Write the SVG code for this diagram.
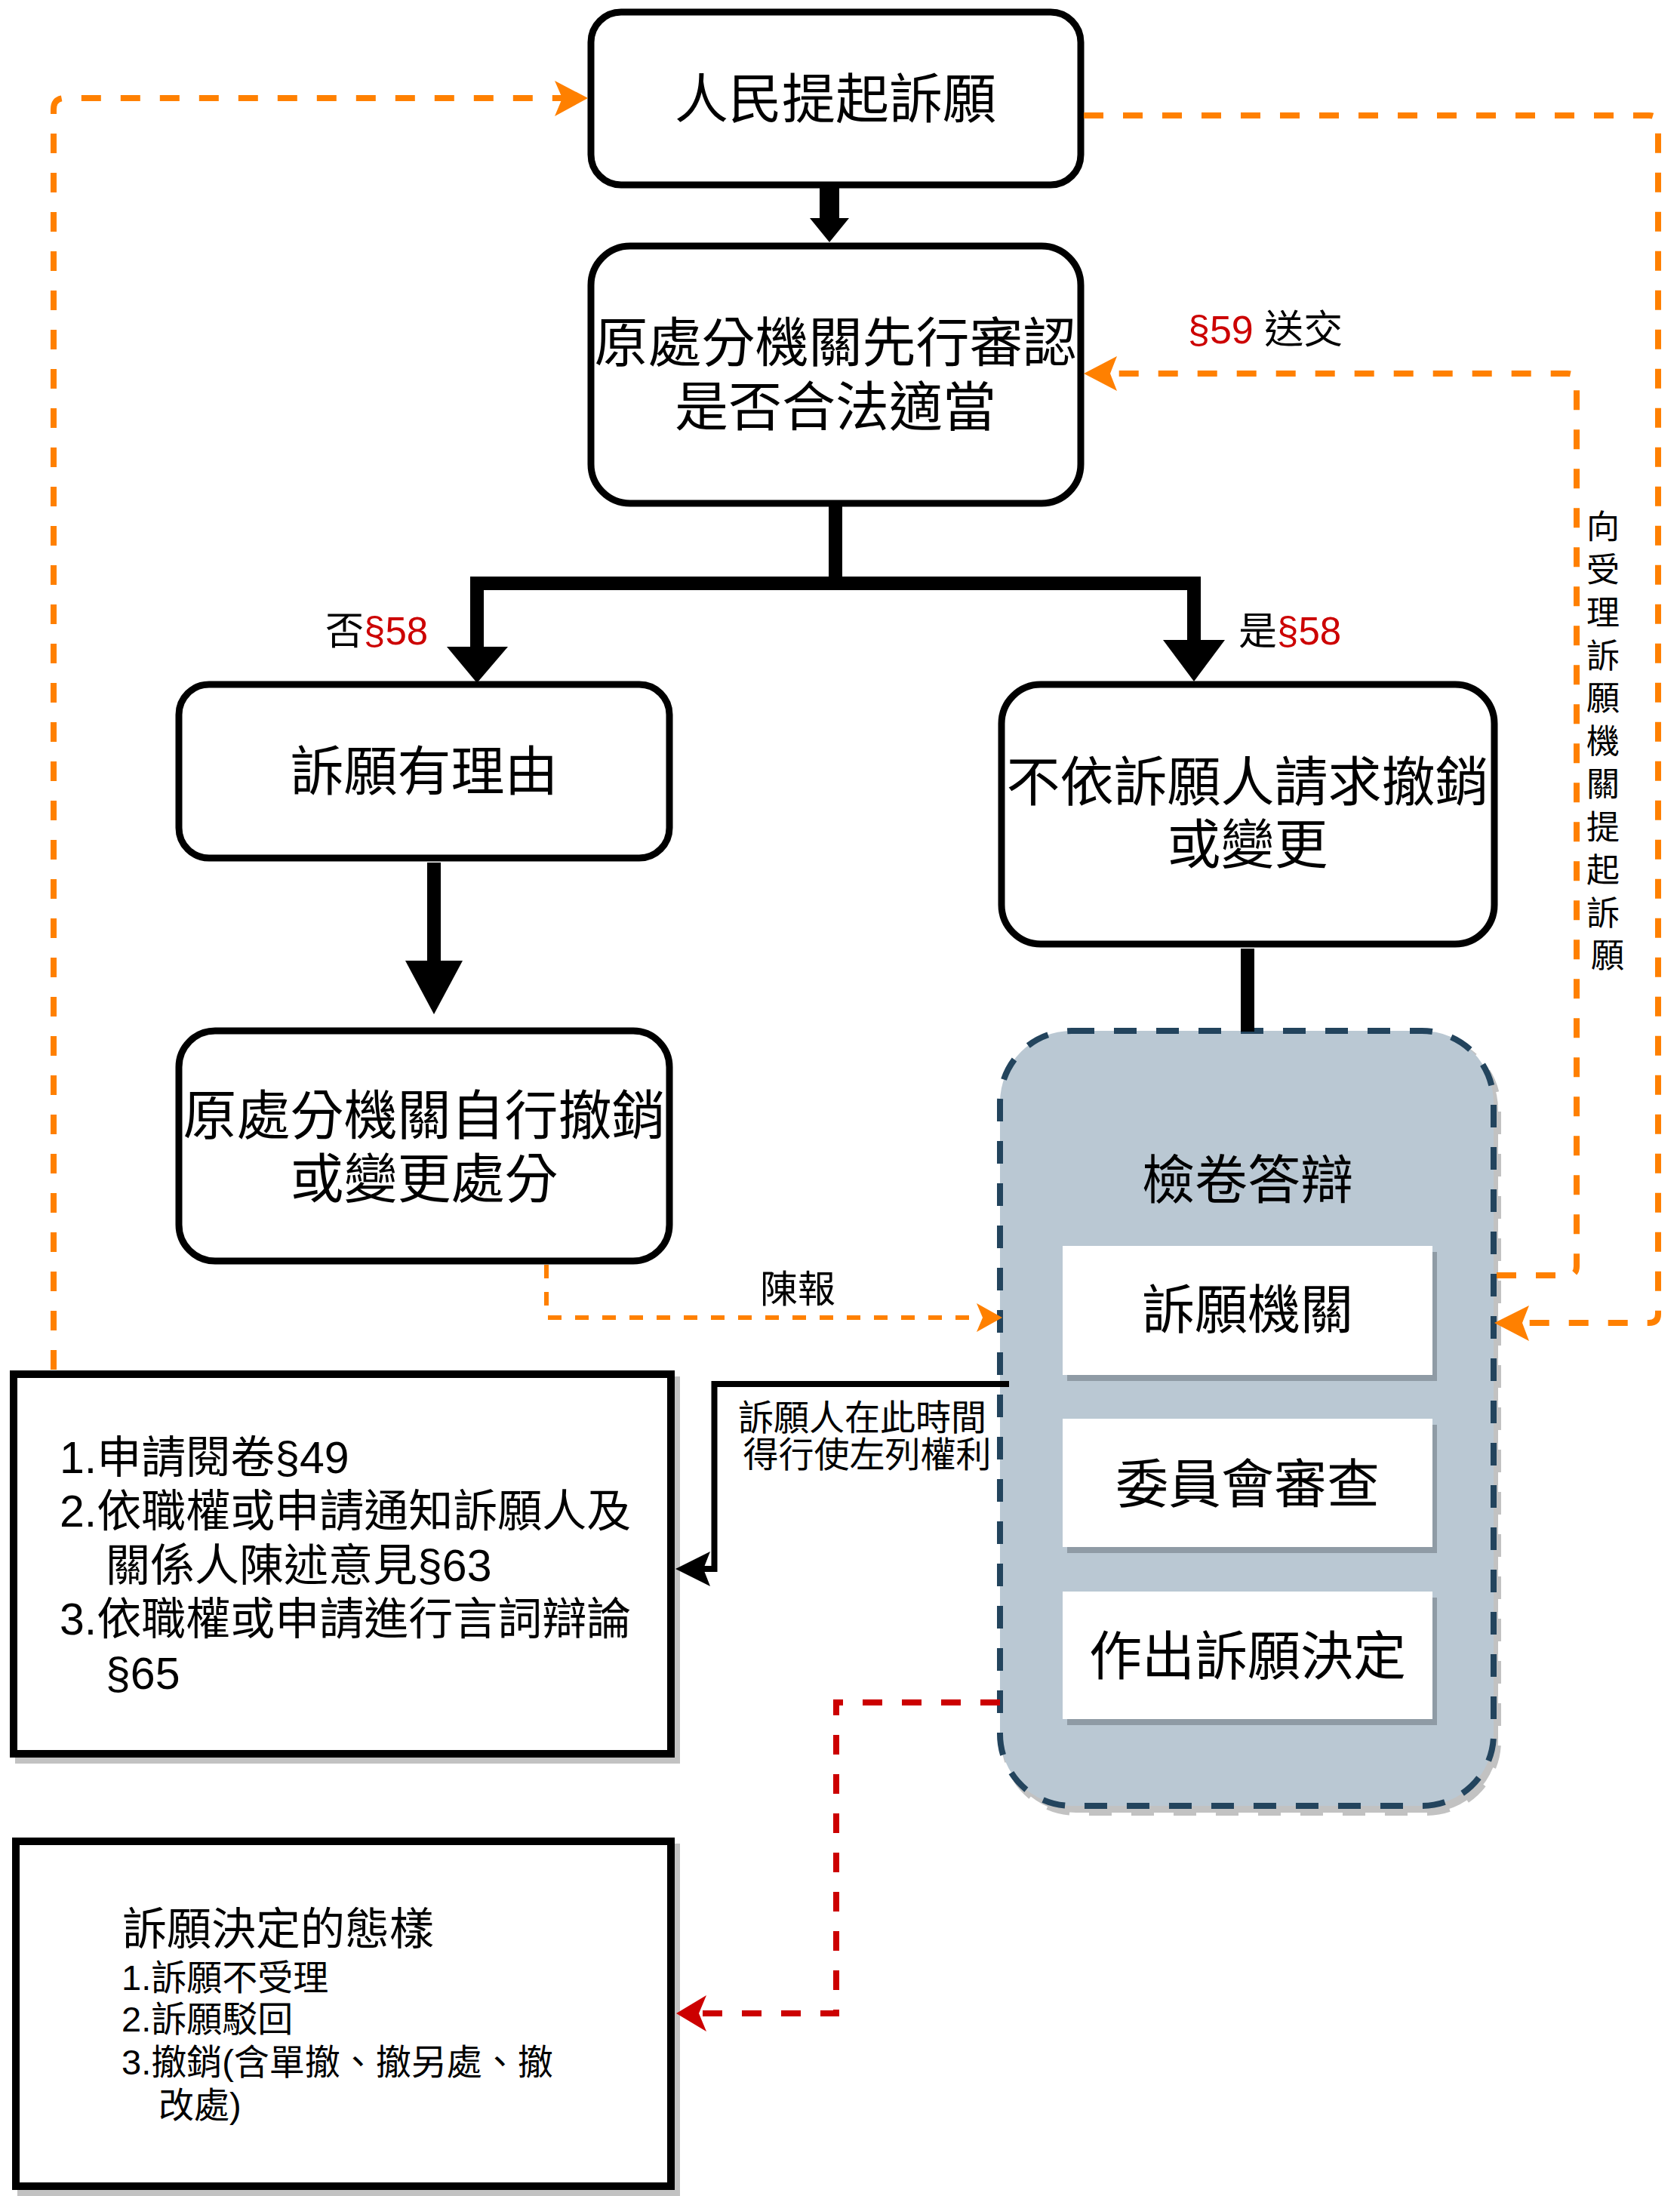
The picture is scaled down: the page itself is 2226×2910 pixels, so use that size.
<svg xmlns="http://www.w3.org/2000/svg" width="2226" height="2910" viewBox="0 0 2226 2910">
<style>
text { font-family: "Liberation Sans", "Noto Sans CJK TC", sans-serif; fill: #000; }
.big { font-size: 71px; text-anchor: middle; }
.mid { font-size: 70px; text-anchor: middle; }
.lbl { font-size: 51px; }
.rd { fill: #CC0000; }
.box { fill: #fff; stroke: #000; stroke-width: 9; }
.sq { fill: #fff; stroke: #000; stroke-width: 10; }
.sh { fill: #c2c2c2; stroke: #c2c2c2; stroke-width: 10; }
.inner { fill: #fff; }
.innersh { fill: #8f9ba5; }
.or { fill: none; stroke: #FF8000; stroke-width: 8; stroke-dasharray: 26 26; }
.or2 { fill: none; stroke: #FF8000; stroke-width: 6; stroke-dasharray: 18 18; }
.redl { fill: none; stroke: #CC0000; stroke-width: 8; stroke-dasharray: 26 26; }
.blk { fill: none; stroke: #000; stroke-width: 18; stroke-linejoin: miter; stroke-linecap: butt; }
.orh { fill: #FF8000; }
.redh { fill: #CC0000; }
</style>
<rect x="0" y="0" width="2226" height="2910" fill="#fff"/>

<g id="n1">
  <rect class="box" x="783" y="16" width="649" height="229" rx="40" ry="40"/>
  <text class="big" x="1107" y="156">人民提起訴願</text>
</g>
<g id="n2">
  <rect class="box" x="783" y="326" width="649" height="341" rx="52" ry="52"/>
  <text class="big" x="1107" y="479">原處分機關先行審認</text>
  <text class="big" x="1107" y="564">是否合法適當</text>
</g>
<g id="n3">
  <rect class="box" x="237" y="907" width="650" height="230" rx="40" ry="40"/>
  <text class="big" x="562" y="1047">訴願有理由</text>
</g>
<g id="n4">
  <rect class="box" x="237" y="1366" width="650" height="305" rx="48" ry="48"/>
  <text class="big" x="562" y="1503">原處分機關自行撤銷</text>
  <text class="big" x="562" y="1587">或變更處分</text>
</g>
<g id="n5">
  <rect class="box" x="1327" y="907" width="653" height="344" rx="52" ry="52"/>
  <text class="big" x="1653" y="1061">不依訴願人請求撤銷</text>
  <text class="big" x="1653" y="1144">或變更</text>
</g>

<g id="container">
  <rect x="1331" y="1375" width="654" height="1027" rx="95" ry="95" fill="#c2c2c2" stroke="#c2c2c2" stroke-width="8" stroke-dasharray="30 26"/>
  <rect x="1325" y="1366" width="654" height="1027" rx="95" ry="95" fill="#BAC8D3" stroke="#23445D" stroke-width="8" stroke-dasharray="30 26"/>
  <text class="mid" x="1653" y="1589">檢卷答辯</text>
</g>
<g id="n6">
  <rect class="innersh" x="1414" y="1659" width="490" height="171"/>
  <rect class="inner" x="1408" y="1651" width="490" height="171"/>
  <text class="mid" x="1653" y="1761">訴願機關</text>
</g>
<g id="n7">
  <rect class="innersh" x="1414" y="1888" width="490" height="170"/>
  <rect class="inner" x="1408" y="1880" width="490" height="170"/>
  <text class="mid" x="1653" y="1992">委員會審查</text>
</g>
<g id="n8">
  <rect class="innersh" x="1414" y="2117" width="490" height="169"/>
  <rect class="inner" x="1408" y="2109" width="490" height="169"/>
  <text class="mid" x="1653" y="2220">作出訴願決定</text>
</g>

<g id="n9">
  <rect class="sh" x="25" y="1829" width="871" height="503"/>
  <rect class="sq" x="18" y="1821" width="871" height="503"/>
  <text style="font-size:59px">
    <tspan x="79" y="1952">1.申請閱卷§49</tspan>
    <tspan x="79" y="2023">2.依職權或申請通知訴願人及</tspan>
    <tspan x="140" y="2095">關係人陳述意見§63</tspan>
    <tspan x="79" y="2166">3.依職權或申請進行言詞辯論</tspan>
    <tspan x="140" y="2238">§65</tspan>
  </text>
</g>
<g id="n10">
  <rect class="sh" x="28" y="2448" width="868" height="457"/>
  <rect class="sq" x="21" y="2440" width="868" height="457"/>
  <text style="font-size:59px" x="162" y="2577">訴願決定的態樣</text>
  <text style="font-size:47px">
    <tspan x="161" y="2637">1.訴願不受理</tspan>
    <tspan x="161" y="2692">2.訴願駁回</tspan>
    <tspan x="161" y="2749">3.撤銷(含單撤、撤另處、撤</tspan>
    <tspan x="210" y="2806">改處)</tspan>
  </text>
</g>

<g id="connectors">
  <!-- 1 -> 2 -->
  <rect x="1086" y="245" width="26" height="45"/>
  <polygon points="1073,289 1125,289 1099,321"/>
  <!-- 2 -> split -->
  <path class="blk" d="M1107 667 V773 M632 858 V773 H1582 V848"/>
  <polygon points="592,857 673,857 632,905"/>
  <polygon points="1541,848 1623,848 1582,903"/>
  <!-- 3 -> 4 -->
  <rect x="566" y="1143" width="18" height="131"/>
  <polygon points="537,1273 613,1273 575,1344"/>
  <!-- 5 -> container -->
  <rect x="1644" y="1257" width="18" height="110"/>
  <!-- container -> rights box -->
  <path d="M1337 1834 H946.5 V2079 H932" fill="none" stroke="#000" stroke-width="8"/>
  <polygon points="895,2079 941,2056 932,2079 941,2102"/>

  <!-- orange left: rights box -> 人民提起訴願 -->
  <path class="or" d="M71 1815 V145 Q71 130 86 130 H745"/>
  <polygon class="orh" points="779,130 735,107 745,130 735,154"/>
  <!-- orange: 人民提起訴願 -> 訴願機關 -->
  <path class="or" d="M1436 153 H2185 Q2197 153 2197 165 V1741 Q2197 1753 2185 1753 H2017"/>
  <polygon class="orh" points="1980,1753 2026,1730 2017,1753 2026,1777"/>
  <!-- orange: 訴願機關 -> 原處分機關 (§59 送交) -->
  <path class="or" d="M1983 1690 H2077 Q2089 1690 2089 1678 V507 Q2089 495 2077 495 H1471"/>
  <polygon class="orh" points="1436,495 1480,472 1471,495 1480,518"/>
  <!-- orange 陳報 -->
  <path class="or2" d="M724 1676 V1746 H1302"/>
  <polygon class="orh" points="1328,1746 1294,1727 1302,1746 1294,1765"/>
  <!-- red: decision -> types -->
  <path class="redl" d="M1325 2256 H1108 V2668 H928"/>
  <polygon class="redh" points="896,2668 936,2644 926,2668 936,2692"/>

  <!-- labels -->
  <text class="lbl" x="431" y="854">否<tspan class="rd">§58</tspan></text>
  <text class="lbl" x="1641" y="854">是<tspan class="rd">§58</tspan></text>
  <text style="font-size:52px" x="1574" y="455"><tspan class="rd">§59</tspan> 送交</text>
  <text style="font-size:50px" x="1007" y="1726">陳報</text>
  <text style="font-size:47px" text-anchor="middle">
    <tspan x="1149" y="1895">訴願人在此時間</tspan>
    <tspan x="1149" y="1944">得行使左列權利</tspan>
  </text>
  <text style="font-size:44px" text-anchor="middle">
    <tspan x="2130" y="714">向</tspan>
    <tspan x="2130" y="771">受</tspan>
    <tspan x="2130" y="828">理</tspan>
    <tspan x="2130" y="885">訴</tspan>
    <tspan x="2130" y="941">願</tspan>
    <tspan x="2130" y="998">機</tspan>
    <tspan x="2130" y="1055">關</tspan>
    <tspan x="2130" y="1112">提</tspan>
    <tspan x="2130" y="1169">起</tspan>
    <tspan x="2130" y="1226">訴</tspan>
    <tspan x="2130" y="1282">願</tspan>
  </text>
</g>
</svg>
